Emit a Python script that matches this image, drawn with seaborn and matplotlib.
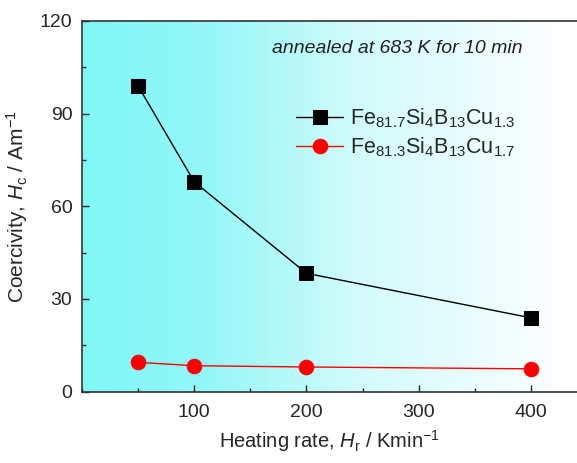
import numpy as np
import pandas as pd
import matplotlib
matplotlib.use("Agg")
import matplotlib.pyplot as plt
from matplotlib.colors import LinearSegmentedColormap
from matplotlib.ticker import MultipleLocator
import seaborn as sns

heating_rate = [50, 100, 200, 400]
hc_cu13 = [98.9, 67.9, 38.3, 23.9]
hc_cu17 = [9.5, 8.4, 8.0, 7.4]
label_cu13 = r'Fe$_{81.7}$Si$_4$B$_{13}$Cu$_{1.3}$'
label_cu17 = r'Fe$_{81.3}$Si$_4$B$_{13}$Cu$_{1.7}$'
x_ticks = [100, 200, 300, 400]
y_ticks = [0, 30, 60, 90, 120]

sns.set_style("ticks")
plt.rcParams['font.family'] = ['Liberation Sans', 'DejaVu Sans']
plt.rcParams['mathtext.fontset'] = 'custom'
plt.rcParams['mathtext.rm'] = 'Liberation Sans'
plt.rcParams['mathtext.it'] = 'Liberation Sans:italic'
plt.rcParams['mathtext.bf'] = 'Liberation Sans:bold'

fig = plt.figure(figsize=(5.77, 4.63), dpi=100)
ax = fig.add_axes([82/577, 71.3/463, 1 - 82/577, 370.9/463])

# background gradient
cmap = LinearSegmentedColormap.from_list("bg", [(0.0, (0.50, 0.97, 0.97)),
                                               (0.25, (0.58, 0.97, 0.97)),
                                               (0.55, (0.82, 0.985, 0.985)),
                                               (1.0, (1.0, 1.0, 1.0))])
grad = np.linspace(0, 1, 256).reshape(1, -1)
ax.imshow(grad, extent=[0, 1, 0, 1], transform=ax.transAxes, cmap=cmap,
          aspect='auto', zorder=0)

df1 = pd.DataFrame({"x": heating_rate, "y": hc_cu13})
df2 = pd.DataFrame({"x": heating_rate, "y": hc_cu17})
sns.lineplot(data=df1, x="x", y="y", ax=ax, color="black", marker="s",
             markersize=9.5, markeredgecolor="black", linewidth=1.0,
             label=label_cu13, zorder=3)
sns.lineplot(data=df2, x="x", y="y", ax=ax, color="#ff0000", marker="o",
             markersize=10.5, markeredgecolor="#ff0000", linewidth=1.0,
             label=label_cu17, zorder=3)

ax.set_xlim(0, 441)
ax.set_ylim(0, 120)
ax.set_xticks(x_ticks)
ax.set_yticks(y_ticks)
ax.xaxis.set_minor_locator(MultipleLocator(50))
ax.yaxis.set_minor_locator(MultipleLocator(15))
ax.tick_params(which='major', direction='in', length=5, width=1, labelsize=14)
ax.tick_params(axis='x', which='major', pad=9)
ax.tick_params(axis='y', which='major', pad=7)
ax.tick_params(which='minor', direction='in', length=3, width=1)
ax.tick_params(axis='y', which='both', left=True, right=False)
ax.tick_params(axis='x', which='both', bottom=True, top=False)
for s in ['left', 'bottom', 'top']:
    ax.spines[s].set_linewidth(1.2)
    ax.spines[s].set_color('#333333')
ax.spines['right'].set_visible(False)

ax.set_xlabel(r'Heating rate, $H_\mathrm{r}$ / Kmin$^{-1}$', fontsize=14.5, labelpad=5)
ax.set_ylabel(r'Coercivity, $H_\mathrm{c}$ / Am$^{-1}$', fontsize=15, labelpad=7)

ax.text(0.637, 0.924, 'annealed at 683 K for 10 min', transform=ax.transAxes,
        fontsize=14, style='italic', ha='center', va='center', color='#222222')

leg = ax.legend(loc='upper left', bbox_to_anchor=(0.432, 0.768), frameon=False,
                fontsize=15.5, handlelength=2.2, handletextpad=0.3,
                labelspacing=0.25, borderaxespad=0, borderpad=0)

fig.savefig("out.png", dpi=100)
